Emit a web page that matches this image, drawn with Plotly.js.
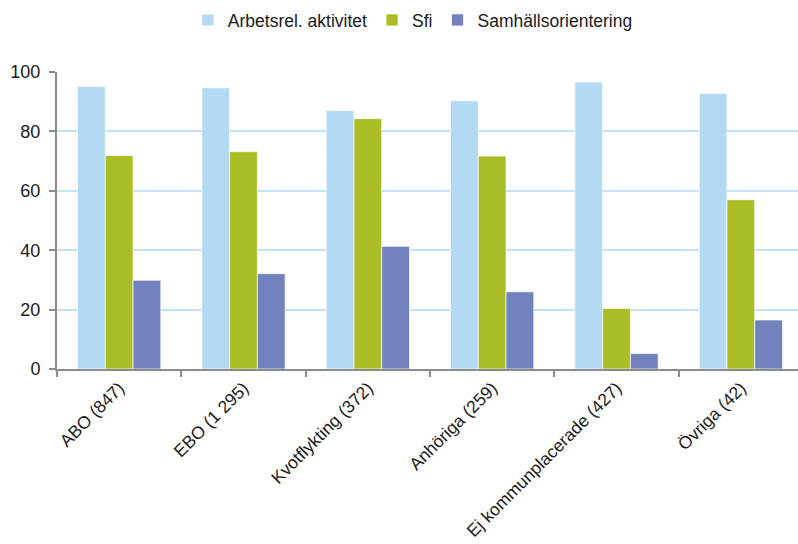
<!DOCTYPE html>
<html>
<head>
<meta charset="utf-8">
<script src="https://cdn.plot.ly/plotly-3.0.1.min.js"></script>
<style>
html,body{margin:0;padding:0;overflow:hidden;background:#fff;}
#chart{width:806px;height:544px;}
</style>
</head>
<body>
<div id="chart"></div>
<script>
var categories = ["ABO (847)", "EBO (1 295)", "Kvotflykting (372)", "Anhöriga (259)", "Ej kommunplacerade (427)", "Övriga (42)"];
var seriesNames = ["Arbetsrel. aktivitet", "Sfi", "Samhällsorientering"];
var arbetsrel = [95.1, 94.7, 87.0, 90.3, 96.6, 92.8];
var sfi = [71.9, 73.2, 84.3, 71.7, 20.4, 57.0];
var samhall = [29.9, 32.1, 41.3, 26.0, 5.2, 16.5];
var colors = ["#b3daf2", "#abbd26", "#7182bf"];
var yTicks = [0, 20, 40, 60, 80, 100];

var font = "'Liberation Sans', Arial, sans-serif";
var values = [arbetsrel, sfi, samhall];
var data = values.map(function(v, i){
  return {
    type: "bar",
    name: seriesNames[i],
    x: categories,
    y: v,
    marker: {color: colors[i], line: {color: "rgba(255,255,255,0.7)", width: 1}}
  };
});

var layout = {
  width: 806, height: 544,
  margin: {l: 57, r: 3, t: 71, b: 175},
  paper_bgcolor: "#fff", plot_bgcolor: "#fff",
  barmode: "group", bargap: 0.33, bargroupgap: 0,
  font: {family: font, size: 17.5, color: "#1a1a1a"},
  showlegend: true,
  legend: {orientation: "h", x: 0.477, xanchor: "center", y: 1.171, yanchor: "middle",
           font: {family: font, size: 17.5, color: "#1a1a1a"}, bgcolor: "rgba(0,0,0,0)"},
  xaxis: {
    type: "category",
    tickangle: -45,
    tickson: "boundaries",
    ticks: "outside", ticklen: 6, tickwidth: 2, tickcolor: "#8c8c8c",
    showline: true, linecolor: "#8c8c8c", linewidth: 2,
    showgrid: false, zeroline: false,
    tickfont: {family: font, size: 17.5, color: "#1a1a1a"}
  },
  yaxis: {
    range: [0, 100],
    tickvals: yTicks,
    ticktext: yTicks.map(String),
    ticks: "outside", ticklen: 6, tickwidth: 2, tickcolor: "#8c8c8c",
    showline: true, linecolor: "#8c8c8c", linewidth: 2,
    showgrid: true, gridcolor: "#c2e2f8", gridwidth: 2,
    zeroline: false,
    ticklabelstandoff: 5,
    tickfont: {family: font, size: 18, color: "#1a1a1a"}
  }
};

Plotly.newPlot("chart", data, layout, {displayModeBar: false, staticPlot: true});
</script>
</body>
</html>
